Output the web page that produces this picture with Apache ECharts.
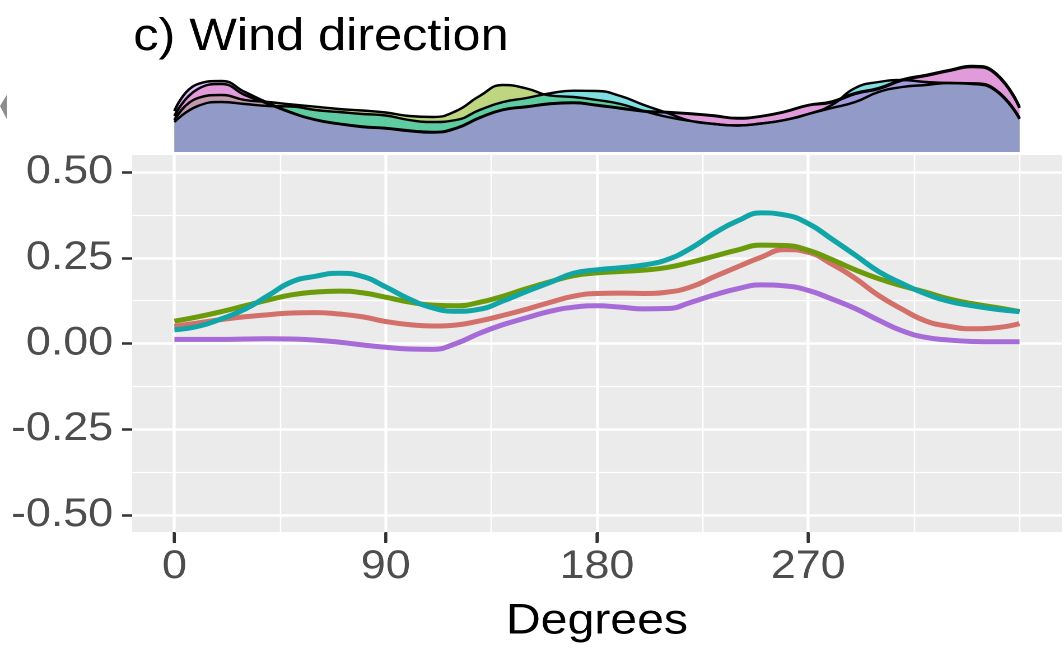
<!DOCTYPE html>
<html><head><meta charset="utf-8">
<script src="https://cdn.jsdelivr.net/npm/echarts@6/dist/echarts.min.js"></script>
<style>
html,body{margin:0;padding:0;background:#fff;overflow:hidden}
#wrap{width:1064px;height:650px;overflow:hidden;position:relative}
#c{width:950px;height:650px;transform:scaleX(1.12);transform-origin:0 0}
</style>
</head><body><div id="wrap"><div id="c"></div></div>
<script>
// ---- data ----
const degrees = [0,10,20,30,40,50,60,70,80,90,100,110,120,130,140,150,160,170,180,190,200,210,220,230,240,250,260,270,280,290,300,310,320,330,340,350,360];
const lineRed    = [0.050,0.060,0.070,0.078,0.084,0.089,0.090,0.086,0.078,0.064,0.055,0.051,0.054,0.066,0.082,0.100,0.120,0.138,0.146,0.147,0.146,0.150,0.165,0.195,0.224,0.252,0.274,0.266,0.232,0.190,0.140,0.100,0.066,0.050,0.043,0.046,0.058];
const lineGreen  = [0.065,0.078,0.093,0.110,0.127,0.142,0.150,0.153,0.148,0.135,0.121,0.112,0.110,0.120,0.138,0.160,0.180,0.198,0.206,0.210,0.214,0.222,0.237,0.255,0.273,0.287,0.286,0.272,0.245,0.215,0.189,0.168,0.150,0.130,0.116,0.105,0.093];
const lineTeal   = [0.040,0.050,0.072,0.100,0.140,0.180,0.196,0.205,0.196,0.165,0.130,0.104,0.094,0.100,0.124,0.152,0.178,0.205,0.215,0.221,0.229,0.245,0.278,0.322,0.358,0.381,0.375,0.350,0.305,0.258,0.210,0.175,0.145,0.123,0.110,0.100,0.093];
const linePurple = [0.012,0.012,0.012,0.013,0.014,0.013,0.010,0.004,-0.004,-0.011,-0.016,-0.017,0.000,0.030,0.055,0.075,0.094,0.106,0.110,0.106,0.101,0.102,0.120,0.142,0.160,0.171,0.168,0.155,0.130,0.102,0.068,0.037,0.018,0.010,0.006,0.005,0.005];
// marginal densities (relative units)
const densDegrees = [0,10,20,30,40,50,60,70,80,90,100,110,120,130,140,150,160,170,180,190,200,210,220,230,240,250,260,270,280,290,300,310,320,330,340,350,360];
const densRed    = [36,63,68,57,48,39,32,28,25,23.5,21,19.5,23.5,34,42,45,48,49,46.5,43.5,40.5,39.5,38,36,33.5,35.5,40,46.5,49.5,58,63,71.5,76,81,85,77.5,44];
const densGreen  = [32,54,57,52,50,47.5,45.3,43,41.5,39.5,36,35,41,56,67,63.5,56.5,55,52,48,41,35,31,28,26.5,28.5,32,38,44,50,60,65,67,69,68.7,62,34];
const densTeal   = [30,46,50,48,46,45.5,42,40,38,36.5,32,30,32,42,50,54,58.7,61.3,61,56,47,39,31,28,26.5,28.5,32,38,47,64,70,72,70,69,68,61,33];
const densPurple = [41,68,71,60,49,39.5,32.5,28.5,25.5,24,21.5,20,24,34.5,42.5,45.5,48.5,49.5,47,44,41,40,38.5,36.5,34,36,40.5,47,50.5,59,64,72.5,77,82,86,78.7,45];
const xMajor = [0,90,180,270];
const xMinor = [45,135,225,315,360];
const yMajor = [-0.5,-0.25,0,0.25,0.5];
const yMinor = [-0.375,-0.125,0.125,0.375];
const Y_MIN = -0.55, Y_MAX = 0.55;

const FONT = 'Liberation Sans, Arial, Helvetica, sans-serif';
const pair = (xs, arr) => xs.map((d,i)=>[d,arr[i]]);

const chart = echarts.init(document.getElementById('c'), null, {renderer:'canvas', devicePixelRatio:2});

function lineSeries(name, arr, color){
  return {name, type:'line', xAxisIndex:0, yAxisIndex:0, data:pair(degrees, arr), smooth:0.5,
    symbol:'none', lineStyle:{color, width:5}, itemStyle:{color}, z:3};
}
function densSeries(name, arr, fill){
  return {name, type:'line', xAxisIndex:2, yAxisIndex:2, data:pair(densDegrees, arr), smooth:0.5,
    symbol:'none', lineStyle:{color:'#000', width:2.4}, areaStyle:{color:fill, opacity:1},
    itemStyle:{color:'#000'}, z:2};
}

chart.setOption({
  animation:false,
  backgroundColor:'#fff',
  title:{text:'c) Wind direction', left:114, top:10,
    textStyle:{fontFamily:FONT, fontSize:45, fontWeight:'normal', color:'#000'}},
  grid:[
    {left:118, right:2, top:155, bottom:118, show:true, backgroundColor:'#EBEBEB', borderWidth:0},
    {left:118, right:2, top:52, height:100, show:false}
  ],
  xAxis:[
    {type:'value', gridIndex:0, min:-18, max:378, position:'bottom',
      axisLine:{show:false, onZero:false},
      axisTick:{show:true, customValues:xMajor, length:10, lineStyle:{color:'#333', width:2.5}},
      axisLabel:{show:true, customValues:xMajor, formatter:v=>String(v), fontFamily:FONT, fontSize:40, color:'#4D4D4D', margin:15},
      splitLine:{show:true, lineStyle:{color:'#fff', width:2.6}},
      name:'Degrees', nameLocation:'middle', nameGap:68,
      nameTextStyle:{fontFamily:FONT, fontSize:43, color:'#000', verticalAlign:'top'}},
    {type:'value', gridIndex:0, min:-18, max:378, position:'top',
      axisLine:{show:false, onZero:false}, axisTick:{show:false, customValues:xMinor}, axisLabel:{show:false},
      splitLine:{show:true, lineStyle:{color:'#fff', width:1.3}}},
    {type:'value', gridIndex:1, min:-18, max:378, show:false}
  ],
  yAxis:[
    {type:'value', gridIndex:0, min:Y_MIN, max:Y_MAX, position:'left',
      axisLine:{show:false, onZero:false},
      axisTick:{show:true, customValues:yMajor, length:9, lineStyle:{color:'#333', width:2.5}},
      axisLabel:{customValues:yMajor, formatter:v=>v.toFixed(2), fontFamily:FONT, fontSize:40, color:'#4D4D4D', margin:17},
      splitLine:{show:true, lineStyle:{color:'#fff', width:2.6}}},
    {type:'value', gridIndex:0, min:Y_MIN, max:Y_MAX, position:'right',
      axisLine:{show:false, onZero:false}, axisTick:{show:false, customValues:yMinor}, axisLabel:{show:false},
      splitLine:{show:true, lineStyle:{color:'#fff', width:1.3}}},
    {type:'value', gridIndex:1, min:0, max:100, show:false}
  ],
  series:[
    densSeries('dRed', densRed, 'rgba(248,118,109,0.5)'),
    densSeries('dGreen', densGreen, 'rgba(124,174,0,0.5)'),
    densSeries('dTeal', densTeal, 'rgba(0,191,196,0.5)'),
    densSeries('dPurple', densPurple, 'rgba(199,124,255,0.5)'),
    lineSeries('red', lineRed, '#D4706A'),
    lineSeries('green', lineGreen, '#6B9A0B'),
    lineSeries('teal', lineTeal, '#12A5A8'),
    lineSeries('purple', linePurple, '#A76BD8')
  ]
});

// x-axis tick marks under the panel (filled rects), positioned through the axis scale
const tickGraphics = xMajor.map(v => {
  const p = chart.convertToPixel({xAxisIndex:0, yAxisIndex:0}, [v, Y_MIN]);
  return {type:'rect', z:100, silent:true,
    shape:{x:p[0] - 1.3, y:p[1] + 1, width:2.6, height:10},
    style:{fill:'#333333'}};
});
chart.setOption({
  graphic:[
    {type:'polygon', z:100, shape:{points:[[0,106],[6,95],[6,119]]}, style:{fill:'#8c8c8c'}},
    ...tickGraphics
  ]
});
</script>
</body></html>
